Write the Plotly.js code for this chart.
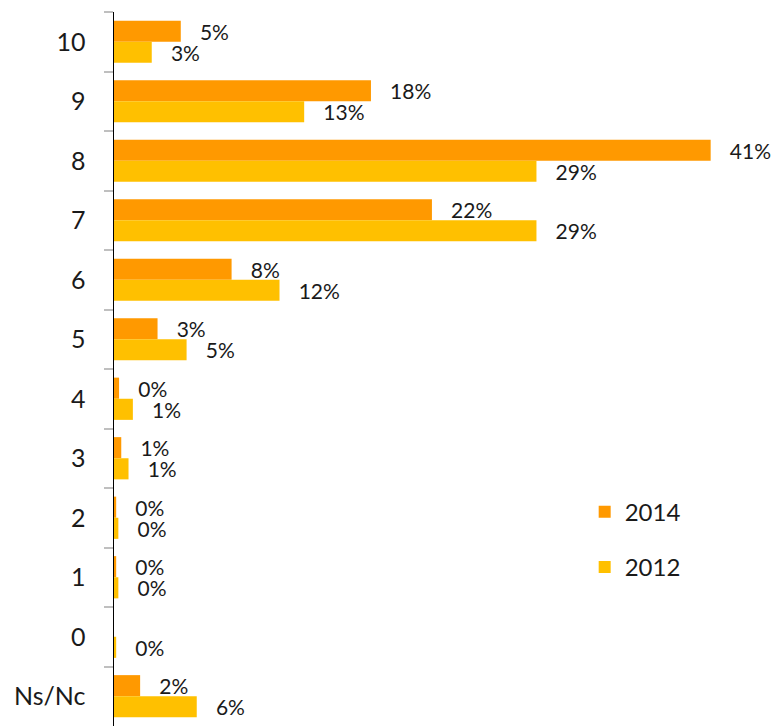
<!DOCTYPE html>
<html>
<head>
<meta charset="utf-8">
<script src="https://cdn.plot.ly/plotly-3.0.1.min.js"></script>
<style>
  html, body { margin: 0; padding: 0; background: #fff; }
  #plot { width: 776px; height: 728px; }
</style>
</head>
<body>
<div id="plot"></div>
<script>
/* Categories, top to bottom */
var categories = ["10", "9", "8", "7", "6", "5", "4", "3", "2", "1", "0", "Ns/Nc"];

/* bar lengths */
var values2014 = [4.6, 17.7, 41.1, 21.9, 8.1, 3.0, 0.35, 0.5, 0.15, 0.15, 0, 1.8];
var values2012 = [2.6, 13.1, 29.1, 29.1, 11.4, 5.0, 1.3, 1.0, 0.3, 0.3, 0.15, 5.7];

/* printed labels */
var labels2014 = ["5%", "18%", "41%", "22%", "8%", "3%", "0%", "1%", "0%", "0%", "", "2%"];
var labels2012 = ["3%", "13%", "29%", "29%", "12%", "5%", "1%", "1%", "0%", "0%", "0%", "6%"];

var pad = "\u00a0\u00a0\u00a0";

var trace1 = {
  y: categories,
  x: values2014,
  name: "2014",
  type: "bar",
  orientation: "h",
  text: labels2014.map(function (t) { return t ? pad + t : ""; }),
  textposition: "outside",
  constraintext: "none",
  cliponaxis: false,
  textfont: { family: "Lato, sans-serif", size: 21, color: "#1a1a1a" },
  marker: { color: "#FF9900" },
  legendgroup: "a",
  hoverinfo: "none"
};

var trace2 = {
  y: categories,
  x: values2012,
  name: "2012",
  type: "bar",
  orientation: "h",
  text: labels2012.map(function (t) { return t ? pad + t : ""; }),
  textposition: "outside",
  constraintext: "none",
  cliponaxis: false,
  textfont: { family: "Lato, sans-serif", size: 21, color: "#1a1a1a" },
  marker: { color: "#FFC000" },
  legendgroup: "b",
  hoverinfo: "none"
};

var layout = {
  width: 776,
  height: 728,
  margin: { l: 114, r: 0, t: 12, b: 2 },
  barmode: "group",
  bargap: 0.29,
  bargroupgap: 0,
  paper_bgcolor: "#fff",
  plot_bgcolor: "#fff",
  font: { family: "Lato, sans-serif", color: "#1a1a1a" },
  showlegend: true,
  legend: {
    x: 0.711, y: 0.331, xanchor: "left", yanchor: "top",
    traceorder: "grouped",
    tracegroupgap: 21,
    font: { size: 24, color: "#1a1a1a" },
    bgcolor: "rgba(0,0,0,0)"
  },
  xaxis: {
    range: [0, 45.6],
    visible: false,
    showgrid: false,
    zeroline: false
  },
  yaxis: {
    autorange: "reversed",
    type: "category",
    showline: true,
    linecolor: "#000",
    linewidth: 1.5,
    ticks: "outside",
    tickson: "boundaries",
    ticklen: 9,
    tickcolor: "#bfbfbf",
    tickwidth: 2,
    ticklabelstandoff: 22,
    tickfont: { size: 25, color: "#1a1a1a" },
    showgrid: false,
    zeroline: false
  }
};

var data = [trace1, trace2];

Plotly.newPlot("plot", data, layout, { displayModeBar: false, staticPlot: true });
</script>
</body>
</html>
